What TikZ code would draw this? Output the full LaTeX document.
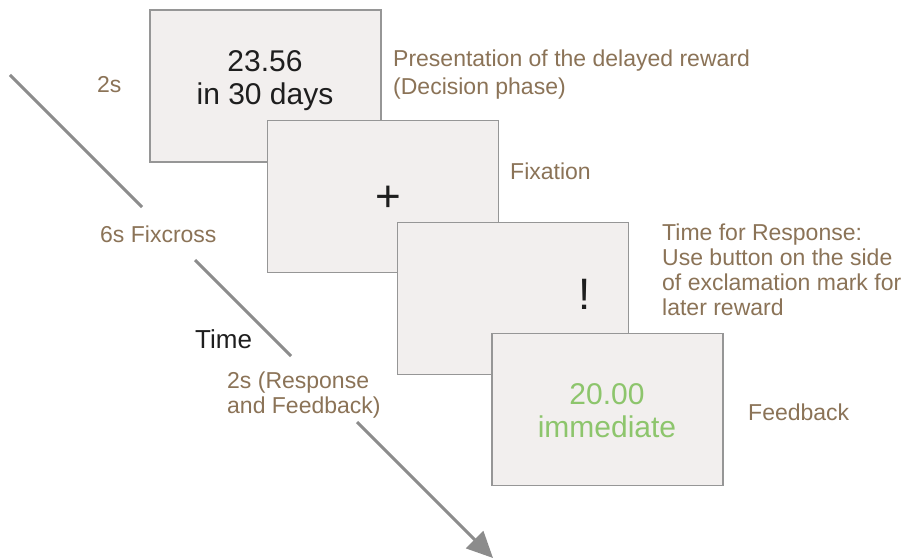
\documentclass[tikz,border=0pt]{standalone}
\usepackage{fontspec}
\setmainfont{Liberation Sans}
\usetikzlibrary{arrows.meta}
\definecolor{labelbrown}{RGB}{139,115,87}
\definecolor{screenfill}{RGB}{242,239,238}
\definecolor{screenborder}{RGB}{150,150,150}
\definecolor{timegray}{RGB}{140,140,140}
\definecolor{feedgreen}{RGB}{141,197,108}
\definecolor{darktext}{RGB}{30,30,30}
\begin{document}
\begin{tikzpicture}[x=1pt,y=-1pt,
  screen/.style={draw=screenborder,line width=1.4pt,fill=screenfill,minimum width=231pt,minimum height=152pt,inner sep=0pt},
  lab/.style={text=labelbrown,font=\fontsize{23}{25}\selectfont,inner sep=0pt,anchor=base west,align=left},
  labwide/.style={lab,font=\fontsize{23}{28}\selectfont},
  scrtext/.style={text=darktext,font=\fontsize{30}{33}\selectfont,inner sep=0pt,anchor=base,align=center},
  symb/.style={text=darktext,font=\fontsize{44}{44}\selectfont,inner sep=0pt},
  timeline/.style={draw=timegray,line width=3pt}
]
\useasboundingbox[fill=white] (0,0) rectangle (903,559);
% screens
\node[screen] (s1) at (265.5,86) {};
\node[screen] (s2) at (383,196.5) {};
\node[screen] (s3) at (513,298.5) {};
\node[screen] (s4) at (607.5,409.5) {};
% screen contents (base anchor = baseline of the last line)
\node[scrtext] (t1) at (265,105) {23.56\\in 30 days};
\node[symb,anchor=center] (t2) at (388,199) {+};
\node[symb,anchor=base] (t3) at (584.5,309) {!};
\node[scrtext,text=feedgreen] (t4) at (607,437) {20.00\\immediate};
% right labels
\node[labwide] (l1) at (393,95) {Presentation of the delayed reward\\(Decision phase)};
\node[lab] (l2) at (510,180) {Fixation};
\node[lab] (l3) at (662,315) {Time for Response:\\Use button on the side\\of exclamation mark for\\later reward};
\node[lab] (l4) at (748,420) {Feedback};
% timeline labels
\node[lab] (d1) at (97,93) {2s};
\node[lab] (d2) at (100,243) {6s Fixcross};
\node[lab,text=darktext,font=\fontsize{26}{28}\selectfont] (tm) at (195,348) {Time};
\node[lab] (d3) at (227,413) {2s (Response\\and Feedback)};
% timeline
\coordinate (a0) at (10,75);
\coordinate (a1) at (142,207);
\coordinate (a2) at (195,260);
\coordinate (a3) at (291,356);
\coordinate (a4) at (357,422);
\coordinate (a5) at (493,558);
\draw[timeline] (a0) -- (a1);
\draw[timeline] (a2) -- (a3);
\draw[timeline,-{Triangle[length=26pt,width=24pt]}] (a4) -- (a5);
\end{tikzpicture}
\end{document}
